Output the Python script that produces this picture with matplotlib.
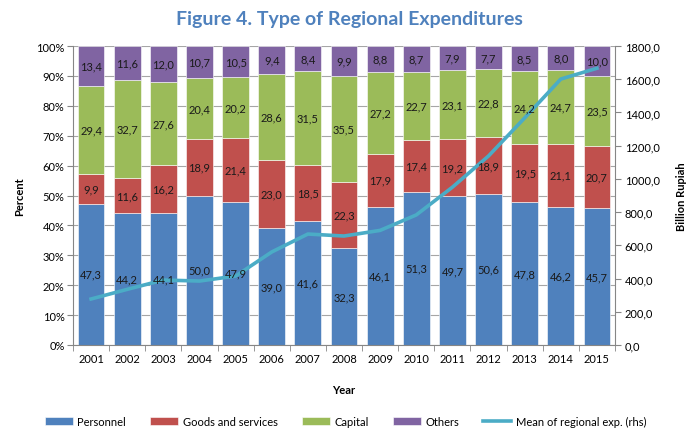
import matplotlib
matplotlib.use("Agg")
import matplotlib.pyplot as plt
import numpy as np
from matplotlib.ticker import FuncFormatter, MultipleLocator, FixedLocator

plt.rcParams['font.family'] = ['Lato', 'DejaVu Sans']

years = ['2001', '2002', '2003', '2004', '2005', '2006', '2007', '2008',
         '2009', '2010', '2011', '2012', '2013', '2014', '2015']
personnel = [47.3, 44.2, 44.1, 50.0, 47.9, 39.0, 41.6, 32.3, 46.1, 51.3, 49.7, 50.6, 47.8, 46.2, 45.7]
goods = [9.9, 11.6, 16.2, 18.9, 21.4, 23.0, 18.5, 22.3, 17.9, 17.4, 19.2, 18.9, 19.5, 21.1, 20.7]
capital = [29.4, 32.7, 27.6, 20.4, 20.2, 28.6, 31.5, 35.5, 27.2, 22.7, 23.1, 22.8, 24.2, 24.7, 23.5]
others = [13.4, 11.6, 12.0, 10.7, 10.5, 9.4, 8.4, 9.9, 8.8, 8.7, 7.9, 7.7, 8.5, 8.0, 10.0]
mean_exp = [277, 335, 391, 385, 415, 560, 668, 656, 690, 783, 950, 1138, 1367, 1601, 1666]

series = [("Personnel", personnel, '#4F81BD'),
          ("Goods and services", goods, '#C0504D'),
          ("Capital", capital, '#9BBB59'),
          ("Others", others, '#8064A2')]

fig = plt.figure(figsize=(6.91, 4.31), dpi=100)
ax = fig.add_axes([73/691, (431-346)/431, (615-73)/691, (346-47)/431])
x = np.arange(len(years))

ax.set_axisbelow(True)
ax.yaxis.grid(True, color='#A6A6A6', linewidth=0.8)
bottom = np.zeros(len(years))
handles = []
labels_to_draw = []
for name, vals, col in series:
    v = np.array(vals)
    b = ax.bar(x, v, bottom=bottom, width=0.74, color=col, edgecolor='white', linewidth=0.4, label=name)
    handles.append(b)
    for xi, yi, bi in zip(x, v, bottom):
        labels_to_draw.append((xi, bi + yi/2, f"{yi:.1f}".replace('.', ',')))
    bottom += v

ax.set_xlim(-0.5, len(years) - 0.5)
ax.set_ylim(0, 100)
ax.yaxis.set_major_locator(MultipleLocator(10))
ax.yaxis.set_major_formatter(FuncFormatter(lambda v, p: f"{int(round(v))}%"))
ax.set_xticks(x)
ax.set_xticklabels(years)
ax.xaxis.set_minor_locator(FixedLocator(np.arange(-0.5, len(years), 1)))
ax.tick_params(axis='x', which='major', length=0, labelsize=8, pad=6)
ax.tick_params(axis='x', which='minor', length=4, color='#868686', direction='out')
ax.tick_params(axis='y', labelsize=8, length=4, color='#868686', pad=2)
for s in ['top', 'right']:
    ax.spines[s].set_visible(False)
for s in ['left', 'bottom']:
    ax.spines[s].set_color('#868686')
ax.set_ylabel('Percent', fontsize=8, fontweight='bold', labelpad=8)
ax.set_xlabel('Year', fontsize=8, fontweight='bold', labelpad=14)

ax2 = ax.twinx()
ax2.set_ylim(0, 1800)
ax2.yaxis.set_major_locator(MultipleLocator(200))
ax2.yaxis.set_major_formatter(FuncFormatter(lambda v, p: f"{v:.1f}".replace('.', ',')))
line, = ax2.plot(x, mean_exp, color='#4BACC6', linewidth=2.6, label='Mean of regional exp. (rhs)', zorder=2)
ax2.tick_params(axis='y', labelsize=8, length=4, color='#868686', pad=3)
for s in ['top', 'left', 'bottom']:
    ax2.spines[s].set_visible(False)
ax2.spines['right'].set_color('#868686')
ax2.set_ylabel('Billion Rupiah', fontsize=8, fontweight='bold', labelpad=12)

for xi, yc, txt in labels_to_draw:
    ax2.text(xi, yc, txt, transform=ax.transData, ha='center', va='center',
             fontsize=8, color='#1a1a1a', zorder=5)

fig.text(0.505, 0.955, 'Figure 4. Type of Regional Expenditures', ha='center', va='center',
         fontsize=14, fontweight='bold', color='#4F81BD')

fig.legend(handles + [line], [h.get_label() for h in handles] + [line.get_label()],
           loc='center', bbox_to_anchor=(0.5, 0.02), ncol=5, frameon=False, fontsize=8,
           handlelength=2.5, handleheight=0.6, columnspacing=2.2, handletextpad=0.4)

fig.savefig('out.png', dpi=100)
